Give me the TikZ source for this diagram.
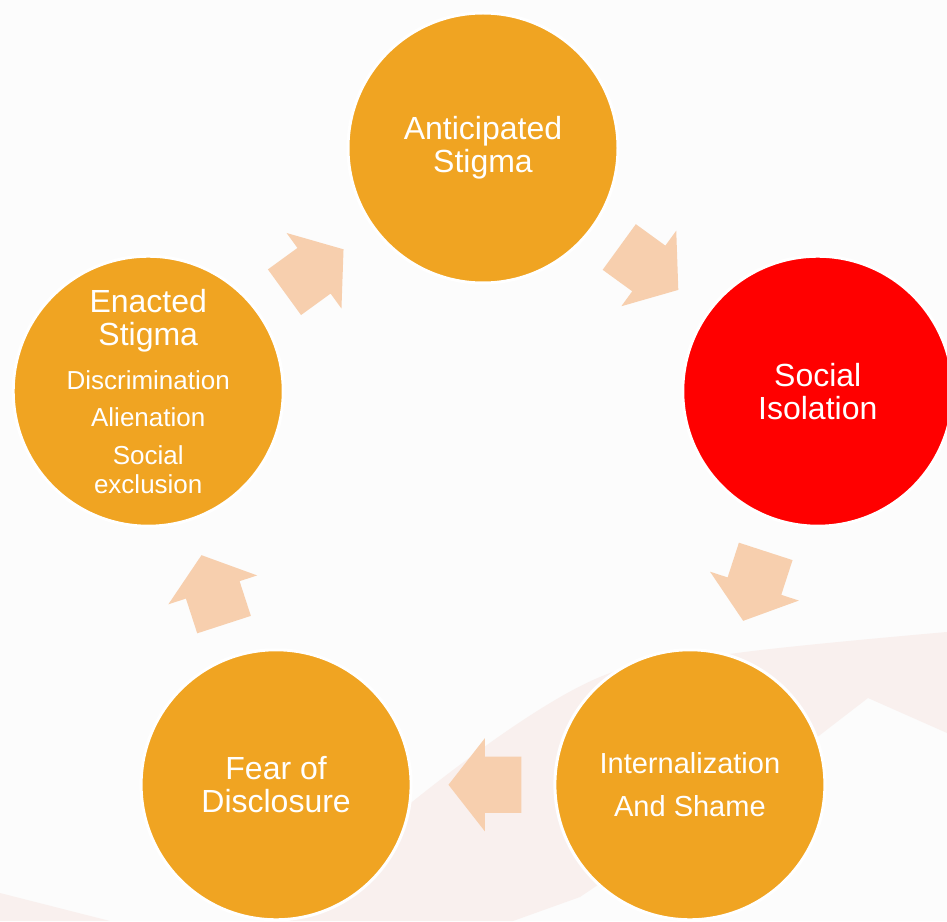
\documentclass[tikz,border=0pt]{standalone}
\usepackage{fontspec}
\setmainfont{Liberation Sans}
\usetikzlibrary{calc,shapes.arrows}
\definecolor{stigmaorange}{HTML}{F0A422}
\definecolor{isored}{HTML}{FF0000}
\definecolor{arrowpeach}{HTML}{F7CFAE}
\definecolor{swooshpink}{HTML}{F9F0EE}
\definecolor{paper}{HTML}{FCFCFC}
\newcommand{\itemfont}{\fontsize{26}{29}\selectfont}
\tikzset{
  stage/.style={circle,draw=white,line width=3pt,fill=stigmaorange,text=white,
    minimum size=270pt,inner sep=0pt,align=center,font=\fontsize{32}{33}\selectfont},
  blockarrow/.style={single arrow,fill=arrowpeach,draw=none,inner xsep=0pt,inner ysep=28pt,
    minimum height=73pt,single arrow head extend=18.5pt,single arrow tip angle=104}
}
\begin{document}
\begin{tikzpicture}[x=1pt,y=1pt]
\useasboundingbox (-483,-421) rectangle (464,500);
\clip (-483,-421) rectangle (464,500);
% paper and the faint swooshes behind the cycle
\begin{scope}[shift={(-483,500)},yscale=-1]
  \fill[paper] (0,0) rectangle (947,921);
  \fill[swooshpink] plot[smooth,tension=.6] coordinates {(290,921) (417,798) (593,680) (737,653) (947,632)}
    -- (947,733) -- (868,698) -- (820,735) -- (580,897) -- (513,921) -- cycle;
  \fill[swooshpink] (0,893) -- (110,921) -- (0,921) -- cycle;
\end{scope}
% the five stages
\node[stage] (anti) at (90:352) {Anticipated\\Stigma};
\node[stage,fill=isored] (iso) at (18:352) {Social\\Isolation};
\node[stage,font=\fontsize{29}{43}\selectfont] (shame) at (-54:352) {Internalization\\And Shame};
\node[stage] (fear) at (-126:352) {Fear of\\Disclosure};
\node[stage] (enact) at (162:352) {Enacted\\Stigma\\[11pt]\itemfont Discrimination\\[4pt]\itemfont Alienation\\[5pt]\itemfont Social\\[-4pt]\itemfont exclusion};
% block arrows between neighbours
\foreach \a/\b in {anti/iso,iso/shame,shame/fear,fear/enact,enact/anti}
  \path let \p1=($(\b)-(\a)$), \n1={atan2(\y1,\x1)} in
    node[blockarrow,rotate=\n1] at ($(\a)!.5!(\b)!13pt!(\a)$) {};
\end{tikzpicture}
\end{document}
